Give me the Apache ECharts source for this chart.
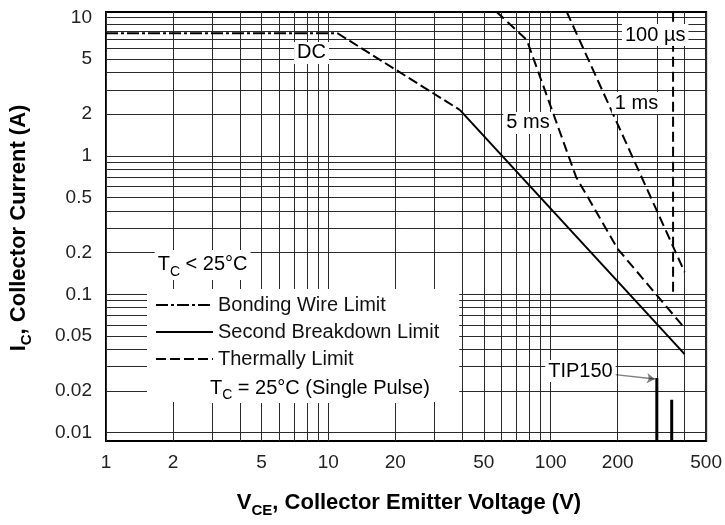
<!DOCTYPE html>
<html>
<head>
<meta charset="utf-8">
<script src="https://cdn.jsdelivr.net/npm/echarts@6/dist/echarts.min.js"></script>
<style>
html, body { margin: 0; padding: 0; background: #fff; }
#chart { width: 725px; height: 525px; }
</style>
</head>
<body>
<div id="chart"></div>
<script>
// axis ticks (V on x, A on y)
const xLabels = [1, 2, 5, 10, 20, 50, 100, 200, 500];
const yLabels = [0.01, 0.02, 0.05, 0.1, 0.2, 0.5, 1, 2, 5, 10];
const xGrid = [1, 2, 3, 4, 5, 6, 7, 8, 9, 10, 20, 30, 40, 50, 60, 70, 80, 90, 100, 200, 300, 400, 500];
const yGrid = [0.01, 0.02, 0.03, 0.04, 0.05, 0.06, 0.07, 0.08, 0.09,
               0.1, 0.2, 0.3, 0.4, 0.5, 0.6, 0.7, 0.8, 0.9,
               1, 2, 3, 4, 5, 6, 7, 8, 9, 10];

// DC limits
const bondV = [1, 11];
const bondI = [7.7, 7.7];
const thermV = [11, 39];
const thermI = [7.7, 2.15];
const sbV = [39, 400];
const sbI = [2.15, 0.037];

// pulse limits
const ms5V = [57, 78, 130, 200, 400];
const ms5I = [11, 6.9, 0.705, 0.213, 0.057];
const ms1V = [118, 400];
const ms1I = [11, 0.145];
const us100V = [355, 355];
const us100I = [11, 0.1];

// voltage rating marks near the bottom
const tip150V = [300, 300];
const tip150I = [0.0087, 0.0248];
const tip151V = [350, 350];
const tip151I = [0.0087, 0.0173];
const arrowV = [186, 294];
const arrowI = [0.0265, 0.0244];

// text notes
const noteText = ['DC', '100 µs', '1 ms', '5 ms', '{t|T}{s|C}{t| < 25°C}', 'TIP150', '{t|T}{s|C}{t| = 25°C (Single Pulse)}'];
const noteV = [8.4, 295, 243, 79, 2.72, 136, 9.16];
const noteI = [5.55, 7.48, 2.41, 1.73, 0.163, 0.0279, 0.021];

const pairs = (xs, ys) => xs.map((x, i) => [x, ys[i]]);
const font = 'Liberation Sans';
const subRich = {
  t: { fontSize: 20, lineHeight: 28, color: '#000', fontFamily: font },
  s: { fontSize: 14, lineHeight: 10, verticalAlign: 'bottom', color: '#000', fontFamily: font }
};

const chart = echarts.init(document.getElementById('chart'));

const curve = (name, xs, ys, type, width) => ({
  name: name,
  type: 'line',
  data: pairs(xs, ys),
  symbol: 'none',
  silent: true,
  itemStyle: { color: '#000' },
  lineStyle: { color: '#000', width: width || 2, type: type },
  z: 3
});

chart.setOption({
  animation: false,
  textStyle: { fontFamily: font },
  grid: {
    left: 106, top: 12, width: 609, height: 429,
    show: true, borderColor: '#000', borderWidth: 2
  },
  xAxis: {
    type: 'log', logBase: 10, min: 1, max: 500,
    axisLine: { show: false },
    axisTick: { show: false, customValues: xGrid },
    axisLabel: {
      customValues: xLabels, fontSize: 19, color: '#222', margin: 12,
      formatter: v => String(+(+v).toPrecision(4))
    },
    splitLine: { show: true, lineStyle: { color: '#2a2a2a', width: 1 } }
  },
  yAxis: {
    type: 'log', logBase: 10, min: Math.pow(10, -2.06), max: Math.pow(10, 1.04),
    axisLine: { show: false },
    axisTick: { show: false, customValues: yGrid },
    axisLabel: {
      customValues: yLabels, fontSize: 19, color: '#222', margin: 14,
      formatter: v => String(+(+v).toPrecision(4))
    },
    splitLine: { show: true, lineStyle: { color: '#2a2a2a', width: 1 } }
  },
  legend: {
    orient: 'vertical',
    left: 147, top: 289,
    data: ['Bonding Wire Limit', 'Second Breakdown Limit', 'Thermally Limit'],
    itemWidth: 57, itemHeight: 14, itemGap: 7,
    padding: [6, 20, 33, 8],
    backgroundColor: '#fff',
    selectedMode: false,
    itemStyle: { opacity: 0 },
    textStyle: { fontSize: 20, color: '#111', lineHeight: 20, fontFamily: font }
  },
  graphic: [
    {
      type: 'text', x: 409, y: 503, z: 50,
      style: {
        text: '{b|V}{s|CE}{b|, Collector Emitter Voltage (V)}',
        align: 'center', verticalAlign: 'middle',
        rich: {
          b: { fontSize: 22, fontWeight: 'bold', lineHeight: 30, fill: '#000', fontFamily: font },
          s: { fontSize: 15, fontWeight: 'bold', lineHeight: 10, verticalAlign: 'bottom', fill: '#000', fontFamily: font }
        }
      }
    },
    {
      type: 'text', x: 19, y: 228, rotation: Math.PI / 2, z: 50,
      style: {
        text: '{b|I}{s|C}{b|, Collector Current (A)}',
        align: 'center', verticalAlign: 'middle',
        rich: {
          b: { fontSize: 22, fontWeight: 'bold', lineHeight: 30, fill: '#000', fontFamily: font },
          s: { fontSize: 15, fontWeight: 'bold', lineHeight: 10, verticalAlign: 'bottom', fill: '#000', fontFamily: font }
        }
      }
    }
  ],
  series: [
    curve('Bonding Wire Limit', bondV, bondI, [12, 3, 3, 3]),
    curve('Thermally Limit', thermV, thermI, [10, 4]),
    curve('Second Breakdown Limit', sbV, sbI, 'solid'),
    curve('5 ms', ms5V, ms5I, [10, 5]),
    curve('1 ms', ms1V, ms1I, [10, 5]),
    curve('100 µs', us100V, us100I, [10, 5]),
    curve('TIP150', tip150V, tip150I, 'solid', 3),
    curve('TIP151', tip151V, tip151I, 'solid', 3),
    {
      type: 'lines',
      coordinateSystem: 'cartesian2d',
      silent: true,
      z: 4,
      symbol: ['none', 'arrow'],
      symbolSize: 8,
      lineStyle: { color: '#000', width: 1.5 },
      data: [{ coords: pairs(arrowV, arrowI) }]
    },
    {
      type: 'scatter',
      symbolSize: 0,
      silent: true,
      z: 10,
      itemStyle: { opacity: 1 },
      data: noteText.map((t, i) => ({
        value: [noteV[i], noteI[i]],
        label: { formatter: t }
      })),
      label: {
        show: true, position: 'inside',
        fontSize: 20, color: '#000', fontFamily: font,
        backgroundColor: '#fff', padding: [1, 3],
        rich: subRich
      }
    }
  ]
});
</script>
</body>
</html>
